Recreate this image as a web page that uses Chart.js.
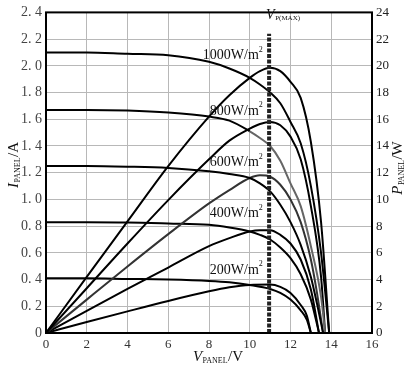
<!DOCTYPE html>
<html><head><meta charset="utf-8">
<script src="https://cdn.jsdelivr.net/npm/chart.js@4"></script>
<style>html,body{margin:0;padding:0;background:#fff;}#wrap{width:409px;height:366px;}</style>
</head><body><div id="wrap"><canvas id="c" width="409" height="366"></canvas></div>
<script>
// ---- data ----
const xTickLabels = ["0","2","4","6","8","10","12","14","16"];
const iTickLabels = ["0","0. 2","0. 4","0. 6","0. 8","1. 0","1. 2","1. 4","1. 6","1. 8","2. 0","2. 2","2. 4"];
const pTickLabels = ["0","2","4","6","8","10","12","14","16","18","20","22","24"];
const irradianceLabels = ["1000W/m²","800W/m²","600W/m²","400W/m²","200W/m²"];

const v1000 = [0,2,4,6,8,9,10,10.5,11,11.5,12,12.5,13,13.5,13.9];
const i1000 = [2.10,2.10,2.09,2.08,2.03,1.98,1.91,1.86,1.80,1.72,1.58,1.42,1.10,0.60,0];
const p1000 = [0,4.2,8.36,12.5,16.2,17.8,19.1,19.6,19.85,19.6,18.8,17.6,14.3,8.3,0];

const v800 = [0,2,4,6,8,9,10,10.5,11,11.5,12,12.5,13,13.5,13.7];
const i800 = [1.67,1.67,1.665,1.65,1.62,1.59,1.51,1.46,1.40,1.29,1.12,0.95,0.65,0.27,0];
const p800 = [0,3.35,6.7,9.95,13.0,14.4,15.3,15.65,15.8,15.55,14.7,13.0,9.5,4.2,0];

const v600 = [0,2,4,6,8,9,10,10.5,11,11.5,12,12.5,13,13.3,13.6];
const i600 = [1.25,1.25,1.245,1.235,1.21,1.19,1.16,1.12,1.06,0.96,0.83,0.66,0.42,0.22,0];
const p600 = [0,2.5,4.98,7.4,9.7,10.7,11.6,11.8,11.7,11.1,10.0,8.3,5.5,3.0,0];

const v400 = [0,2,4,6,8,9,10,10.5,11,11.5,12,12.5,13,13.4];
const i400 = [0.83,0.83,0.828,0.82,0.81,0.79,0.76,0.735,0.70,0.64,0.56,0.44,0.25,0];
const p400 = [0,1.66,3.3,4.9,6.5,7.1,7.6,7.7,7.7,7.35,6.7,5.5,3.25,0];

const v200 = [0,2,4,6,8,9,10,11,11.5,12,12.5,12.8,13.0];
const i200 = [0.41,0.41,0.405,0.40,0.39,0.38,0.36,0.33,0.30,0.25,0.17,0.10,0];
const p200 = [0,0.82,1.62,2.4,3.12,3.42,3.6,3.63,3.45,3.0,2.1,1.3,0];

const vPmax = 10.95;          // voltage of the V_P(MAX) marker
const vPmaxTop = 2.24;        // top of marker (current units)

// label anchors (data coordinates, right edge / vertical centre)
const labelAnchors = [[10.64,2.077],[10.64,1.659],[10.64,1.277],[10.64,0.895],[10.64,0.47]];

function pts(xs, ys){ return xs.map((x,k)=>({x:x,y:ys[k]})); }

const curve = (xs, ys, axis, color) => ({
  data: pts(xs, ys), yAxisID: axis, borderColor: color || '#000', borderWidth: 2,
  pointRadius: 0, fill: false, showLine: true, cubicInterpolationMode: 'monotone'
});

const datasets = [
  { data: pts([vPmax, vPmax], [0, vPmaxTop]), yAxisID: 'y', borderColor: '#222', borderWidth: 4,
    borderDash: [4,1.5], pointRadius: 0, showLine: true, fill: false },
  curve(v1000, i1000, 'y'), curve(v1000, p1000, 'y1'),
  Object.assign(curve(v800, i800, 'y'), { segment: { borderColor: c => c.p0.parsed.x >= 10 ? '#666' : '#000' } }),
  curve(v800, p800, 'y1'),
  curve(v600, i600, 'y'), curve(v600, p600, 'y1', '#333'),
  curve(v400, i400, 'y'), curve(v400, p400, 'y1'),
  curve(v200, i200, 'y'), curve(v200, p200, 'y1')
];

function drawLabel(ctx, x, y, main, sub, rest, size, rot, align){
  ctx.save();
  ctx.translate(x, y);
  if (rot) ctx.rotate(rot);
  ctx.fillStyle = '#111';
  ctx.textBaseline = 'alphabetic';
  const fMain = 'italic ' + size + 'px "Liberation Serif"';
  const fSub = Math.round(size*0.5) + 'px "Liberation Serif"';
  const fRest = size + 'px "Liberation Serif"';
  ctx.font = fMain; const w1 = ctx.measureText(main).width;
  ctx.font = fSub; const w2 = ctx.measureText(sub).width;
  ctx.font = fRest; const w3 = ctx.measureText(rest).width;
  const total = w1 + w2 + 1 + w3;
  let sx = align === 'left' ? 0 : -total/2;
  ctx.font = fMain; ctx.fillText(main, sx, size*0.35); sx += w1 + 0.5;
  ctx.font = fSub; ctx.fillText(sub, sx, size*0.45); sx += w2 + 0.5;
  ctx.font = fRest; ctx.fillText(rest, sx, size*0.35);
  ctx.restore();
}

const deco = {
  id: 'deco',
  afterDraw(chart){
    const ctx = chart.ctx, a = chart.chartArea, sx = chart.scales.x, sy = chart.scales.y;
    ctx.save();
    ctx.strokeStyle = '#000'; ctx.lineWidth = 2;
    ctx.strokeRect(a.left, a.top, a.right - a.left, a.bottom - a.top);
    // irradiance labels
    ctx.fillStyle = '#111';
    ctx.textAlign = 'right'; ctx.textBaseline = 'middle';
    irradianceLabels.forEach((t,k)=>{
      const px = sx.getPixelForValue(labelAnchors[k][0]);
      const py = sy.getPixelForValue(labelAnchors[k][1]);
      const base = t.replace('²','');
      ctx.font = '14px "Liberation Serif"';
      ctx.textAlign = 'right';
      ctx.fillText(base, px - 4, py);
      ctx.font = '8px "Liberation Serif"';
      ctx.textAlign = 'left';
      ctx.fillText('2', px - 4, py - 6);
    });
    ctx.restore();
    // V_P(MAX)
    const vx = sx.getPixelForValue(vPmax);
    drawLabel(ctx, vx - 3, 14, 'V', 'P(MAX)', '', 14, 0, 'left');
    // axis titles
    drawLabel(ctx, 218, 356, 'V', 'PANEL', '/V', 15, 0);
    drawLabel(ctx, 13, 165, 'I', 'PANEL', '/A', 15, -Math.PI/2);
    drawLabel(ctx, 397, 168, 'P', 'PANEL', '/W', 15, -Math.PI/2);
  }
};

new Chart(document.getElementById('c'), {
  type: 'scatter',
  data: { datasets },
  options: {
    responsive: false, animation: false, events: [],
    layout: { padding: { top: 6, left: 0, right: 0, bottom: 0 } },
    plugins: { legend: { display: false }, tooltip: { enabled: false } },
    scales: {
      x: { type: 'linear', min: 0, max: 16,
        afterFit: s => { s.height = 33; },
        grid: { color: '#b8b8b8', lineWidth: 1, drawTicks: false },
        border: { display: false },
        ticks: { stepSize: 2, padding: 4, color: '#333', font: { family: 'Liberation Serif', size: 13 },
          callback: (v) => xTickLabels[Math.round(v/2)] } },
      y: { type: 'linear', position: 'left', min: 0, max: 2.4,
        afterFit: s => { s.width = 46; },
        grid: { color: '#b8b8b8', lineWidth: 1, drawTicks: false },
        border: { display: false },
        ticks: { stepSize: 0.2, padding: 4, color: '#444', font: { family: 'Liberation Serif', size: 14 },
          callback: (v) => iTickLabels[Math.round(v/0.2)] } },
      y1: { type: 'linear', position: 'right', min: 0, max: 24,
        afterFit: s => { s.width = 37; },
        grid: { display: false, drawTicks: false },
        border: { display: false },
        ticks: { stepSize: 2, padding: 4, color: '#222', font: { family: 'Liberation Serif', size: 13 },
          callback: (v) => pTickLabels[Math.round(v/2)] } }
    }
  },
  plugins: [deco]
});
</script></body></html>
